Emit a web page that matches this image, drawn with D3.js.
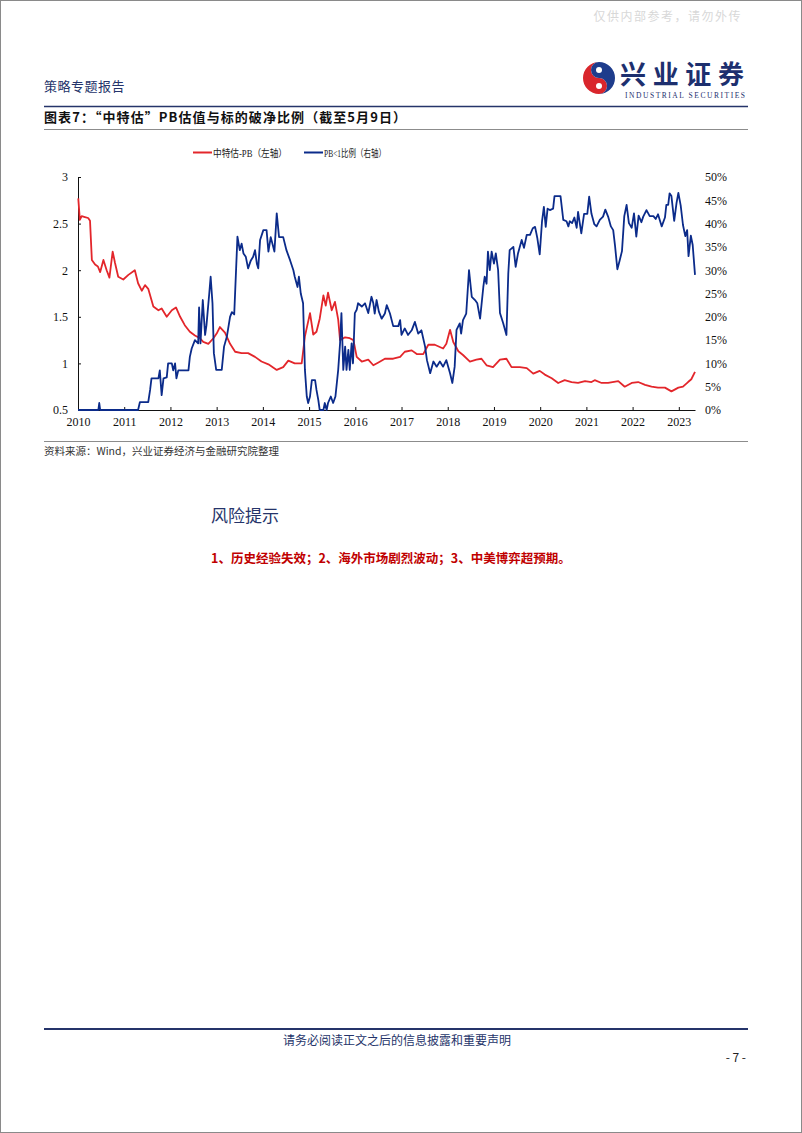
<!DOCTYPE html>
<html><head><meta charset="utf-8">
<script src="https://cdn.jsdelivr.net/npm/d3@7"></script>
<style>
html,body{margin:0;padding:0;background:#fff;}
svg{display:block;}
</style></head>
<body>
<svg id="page" width="802" height="1133"></svg>
<script>
// ---------------- data ----------------
const legendLabels = ["中特估-PB（左轴）", "PB<1比例（右轴）"];
const yearTicks = [2010,2011,2012,2013,2014,2015,2016,2017,2018,2019,2020,2021,2022,2023];
const leftTicks = [0.5,1,1.5,2,2.5,3];
const rightTicks = [0,5,10,15,20,25,30,35,40,45,50];

// 中特估-PB  [decimal year, PB]
const pbSeries = [
[2010.006,2.77],[2010.04,2.54],[2010.08,2.58],[2010.15,2.57],[2010.22,2.56],[2010.26,2.53],[2010.30,2.11],
[2010.37,2.06],[2010.43,2.04],[2010.48,1.98],[2010.55,2.11],[2010.62,2.00],[2010.68,1.92],[2010.75,2.20],
[2010.80,2.08],[2010.87,1.93],[2010.98,1.90],[2011.09,1.95],[2011.23,2.00],[2011.30,1.86],[2011.38,1.78],
[2011.45,1.84],[2011.52,1.80],[2011.63,1.61],[2011.74,1.57],[2011.81,1.59],[2011.92,1.50],[2012.03,1.57],
[2012.12,1.60],[2012.21,1.50],[2012.31,1.41],[2012.42,1.34],[2012.53,1.30],[2012.64,1.27],[2012.71,1.23],
[2012.82,1.21],[2012.93,1.27],[2013.00,1.32],[2013.07,1.39],[2013.18,1.33],[2013.29,1.21],[2013.40,1.125],
[2013.54,1.11],[2013.68,1.11],[2013.83,1.07],[2013.97,1.02],[2014.12,0.99],[2014.30,0.93],[2014.44,0.96],
[2014.55,1.03],[2014.69,1.00],[2014.84,1.00],[2014.91,1.29],[2015.02,1.54],[2015.09,1.31],[2015.16,1.34],
[2015.23,1.48],[2015.31,1.73],[2015.36,1.62],[2015.41,1.76],[2015.49,1.57],[2015.56,1.66],[2015.63,1.47],
[2015.67,1.25],[2015.78,1.28],[2015.88,1.27],[2015.96,1.25],[2016.03,1.07],[2016.14,1.02],[2016.28,1.04],
[2016.39,0.98],[2016.50,1.01],[2016.64,1.05],[2016.82,1.05],[2016.97,1.07],[2017.07,1.125],[2017.22,1.14],
[2017.33,1.10],[2017.47,1.10],[2017.58,1.20],[2017.72,1.20],[2017.90,1.16],[2017.97,1.21],[2018.05,1.36],
[2018.12,1.23],[2018.23,1.13],[2018.33,1.09],[2018.48,1.02],[2018.62,1.04],[2018.73,1.05],[2018.84,0.98],
[2018.98,0.96],[2019.13,1.04],[2019.27,1.05],[2019.38,0.96],[2019.56,0.96],[2019.71,0.95],[2019.85,0.89],
[2019.99,0.92],[2020.10,0.88],[2020.25,0.84],[2020.39,0.79],[2020.53,0.82],[2020.68,0.80],[2020.82,0.79],
[2020.97,0.81],[2021.11,0.80],[2021.18,0.82],[2021.33,0.79],[2021.47,0.79],[2021.69,0.81],[2021.83,0.75],
[2021.98,0.79],[2022.12,0.80],[2022.27,0.77],[2022.41,0.75],[2022.55,0.74],[2022.70,0.74],[2022.84,0.70],
[2022.99,0.74],[2023.09,0.75],[2023.20,0.80],[2023.27,0.83],[2023.35,0.91]
];

// PB<1比例  [decimal year, percent]
const ratioSeries = [
[2010.00,0],[2010.44,0],[2010.46,1.5],[2010.48,0],[2011.30,0],[2011.34,1.7],[2011.52,1.7],[2011.56,4.3],
[2011.59,6.8],[2011.74,6.8],[2011.77,8.5],[2011.81,3.2],[2011.85,6.8],[2011.92,7.0],[2011.95,10],[2012.03,10],
[2012.06,8.5],[2012.10,10],[2012.13,6.8],[2012.17,8.5],[2012.39,8.5],[2012.42,11.4],[2012.46,13.2],[2012.53,15],
[2012.60,14.3],[2012.62,22],[2012.65,14.3],[2012.70,23.6],[2012.75,16.1],[2012.78,18.2],[2012.84,25],[2012.87,28.6],
[2012.91,22.9],[2012.94,12.2],[2012.99,8.6],[2013.11,8.6],[2013.16,13.6],[2013.22,15.7],[2013.29,20],[2013.33,21],
[2013.38,20.5],[2013.45,37.2],[2013.50,34.3],[2013.54,35.7],[2013.58,33.6],[2013.63,32.9],[2013.68,30.4],[2013.74,32.1],
[2013.79,32.9],[2013.83,34.3],[2013.87,31.4],[2013.90,30.4],[2013.94,36.5],[2014.01,38.6],[2014.08,38.6],[2014.12,34],
[2014.17,37.1],[2014.25,34],[2014.30,42.2],[2014.35,37.1],[2014.44,37.1],[2014.51,34.3],[2014.59,32.1],[2014.66,30],
[2014.69,28.6],[2014.75,26.4],[2014.78,28.6],[2014.82,25],[2014.87,22.9],[2014.91,8.6],[2014.95,2.9],[2014.98,1.5],
[2015.02,2.9],[2015.06,6.4],[2015.13,6.4],[2015.16,4.3],[2015.20,2.1],[2015.23,0],[2015.31,0],[2015.34,1.5],
[2015.38,0],[2015.41,1.5],[2015.47,2.9],[2015.52,1.5],[2015.57,2.9],[2015.63,8.6],[2015.67,14.3],[2015.70,20.8],
[2015.74,8.6],[2015.78,13.6],[2015.81,8.6],[2015.85,12.9],[2015.88,8.6],[2015.92,14.3],[2015.95,10],[2015.99,20.8],
[2016.03,21.5],[2016.06,22.9],[2016.14,22.2],[2016.21,22.9],[2016.28,20.8],[2016.35,24.3],[2016.39,22.9],[2016.42,20.7],
[2016.46,23.6],[2016.51,21.1],[2016.57,19.6],[2016.64,20.7],[2016.68,22.5],[2016.75,20.7],[2016.82,18],[2016.93,18],
[2016.97,19.3],[2017.00,16.1],[2017.07,17.5],[2017.14,16.1],[2017.22,17.1],[2017.29,18.9],[2017.36,16.4],[2017.43,17.1],
[2017.51,13.6],[2017.55,10.7],[2017.62,7.9],[2017.69,10.4],[2017.76,9.3],[2017.83,10.4],[2017.90,9.3],[2017.97,10.7],
[2018.05,7.9],[2018.10,5.8],[2018.15,9.3],[2018.19,17.2],[2018.26,18.6],[2018.29,16.4],[2018.33,19.3],[2018.40,20.7],
[2018.46,30],[2018.52,24.3],[2018.59,23.6],[2018.64,22.9],[2018.70,19.6],[2018.77,26.4],[2018.80,28.6],[2018.84,27.1],
[2018.87,34],[2018.91,30],[2018.95,34],[2019.00,31.4],[2019.04,33.6],[2019.09,30],[2019.13,20.8],[2019.20,18.6],
[2019.27,16.1],[2019.31,29.3],[2019.34,34.3],[2019.42,35],[2019.47,30.7],[2019.52,33.6],[2019.60,36.5],[2019.65,34.8],
[2019.71,37.6],[2019.78,37.6],[2019.84,39],[2019.89,39.3],[2019.94,36.8],[2019.99,33.4],[2020.04,40.5],[2020.08,43.6],
[2020.12,39.3],[2020.16,43.2],[2020.21,42.9],[2020.28,43.2],[2020.31,45.9],[2020.44,45.9],[2020.50,40.8],[2020.57,40.5],
[2020.61,39.4],[2020.64,40.5],[2020.69,40.1],[2020.74,41.3],[2020.79,39.1],[2020.82,42.5],[2020.89,37.9],[2020.95,42.1],
[2021.02,42.1],[2021.06,45.8],[2021.11,42.1],[2021.17,39.9],[2021.22,39.4],[2021.29,40.8],[2021.36,41.5],[2021.41,43],
[2021.47,41.5],[2021.53,39.4],[2021.58,38.6],[2021.62,35.2],[2021.67,30.2],[2021.72,32.1],[2021.77,34.1],[2021.82,41.6],
[2021.87,44],[2021.92,40.1],[2021.98,39.1],[2022.03,42.2],[2022.08,37.2],[2022.13,41.7],[2022.19,40.3],[2022.23,41.5],
[2022.30,42.9],[2022.37,41.6],[2022.45,41.6],[2022.50,41],[2022.55,42],[2022.63,39.4],[2022.70,41.3],[2022.73,44],
[2022.77,44],[2022.80,46.5],[2022.84,45.9],[2022.90,40.6],[2022.95,44.4],[2022.99,46.6],[2023.04,43.9],[2023.09,39.7],
[2023.14,37.3],[2023.18,38.6],[2023.21,33],[2023.26,37.4],[2023.30,35.4],[2023.35,29]
];

// ---------------- drawing ----------------
const svg = d3.select("#page");
const NAVY = "#25346a";
const RED = "#e3262b";
const BLUE = "#0b2b8a";
const CJK = "'Noto Sans CJK SC', sans-serif";
const SERIF = "'Liberation Serif', 'Noto Sans CJK SC', serif";

// page frame
svg.append("rect").attr("x",0.5).attr("y",0.5).attr("width",801).attr("height",1132)
  .attr("fill","none").attr("stroke","#8a8a8a").attr("stroke-width",1);

// watermark
svg.append("text").attr("x",742).attr("y",21).attr("text-anchor","end")
  .attr("font-family",CJK).attr("font-size",12).attr("fill","#d8d8d8").attr("letter-spacing",1.5)
  .text("仅供内部参考，请勿外传");

// header left
svg.append("text").attr("x",44).attr("y",91)
  .attr("font-family",CJK).attr("font-size",13).attr("fill",NAVY).attr("letter-spacing",0.5)
  .text("策略专题报告");

// logo
const lg = svg.append("g").attr("transform","translate(599,78)");
lg.append("path").attr("d","M0,-16 A16,16 0 0,0 0,16 A8,8 0 0,0 0,0 A8,8 0 0,1 0,-16 Z").attr("fill","#d9262c");
lg.append("path").attr("d","M0,-16 A16,16 0 0,1 0,16 A8,8 0 0,0 0,0 A8,8 0 0,1 0,-16 Z").attr("fill","#1e3c8c");
lg.append("circle").attr("cx",0).attr("cy",-8).attr("r",3).attr("fill","#fff");
lg.append("circle").attr("cx",0).attr("cy",8).attr("r",3).attr("fill","#fff");
svg.append("text").attr("x",620).attr("y",84)
  .attr("font-family",CJK).attr("font-weight","bold").attr("font-size",26).attr("fill","#1d2f6e")
  .attr("textLength",124).attr("lengthAdjust","spacing")
  .text("兴业证券");
svg.append("text").attr("x",625).attr("y",98)
  .attr("font-family","'Liberation Serif', serif").attr("font-size",7.5).attr("fill","#1d2f6e")
  .attr("textLength",120).attr("lengthAdjust","spacing")
  .text("INDUSTRIAL SECURITIES");

// header line
svg.append("line").attr("x1",44).attr("x2",748).attr("y1",106.5).attr("y2",106.5)
  .attr("stroke",NAVY).attr("stroke-width",1.5);

// title
svg.append("text").attr("x",44).attr("y",122)
  .attr("font-family",CJK).attr("font-weight","bold").attr("font-size",13).attr("fill","#111")
  .attr("textLength",362).attr("lengthAdjust","spacing")
  .text("图表7：“中特估”PB估值与标的破净比例（截至5月9日）");
svg.append("line").attr("x1",44).attr("x2",748).attr("y1",129.5).attr("y2",129.5)
  .attr("stroke","#8c8c8c").attr("stroke-width",1);

// chart geometry
const x = d3.scaleLinear().domain([2010, 2023.35]).range([78, 695]);
const yL = d3.scaleLinear().domain([0.5, 3]).range([410, 177]);
const yR = d3.scaleLinear().domain([0, 50]).range([410, 177]);

const chart = svg.append("g");

// axes
const xAxis = d3.axisBottom(x).tickValues(yearTicks).tickFormat(d3.format("d"))
  .tickSizeInner(-3).tickSizeOuter(0).tickPadding(7);
const gx = chart.append("g").attr("transform","translate(0,410)").call(xAxis);
const leftAxis = d3.axisLeft(yL).tickValues(leftTicks).tickFormat(d => String(d))
  .tickSizeInner(-3).tickSizeOuter(0).tickPadding(10);
const gl = chart.append("g").attr("transform","translate(78,0)").call(leftAxis);
const rightAxis = d3.axisRight(yR).tickValues(rightTicks).tickFormat(d => d + "%")
  .tickSize(0).tickPadding(10);
const gr = chart.append("g").attr("transform","translate(695,0)").call(rightAxis);
gr.select(".domain").remove();

[gx, gl, gr].forEach(g => {
  g.selectAll("text").attr("font-family","'Liberation Serif', serif").attr("font-size",12).attr("fill","#111");
  g.selectAll(".domain, .tick line").attr("stroke","#111");
});

// lines
const linePB = d3.line().x(d => x(d[0])).y(d => yL(d[1]));
const lineRatio = d3.line().x(d => x(d[0])).y(d => yR(d[1]));
chart.append("path").datum(pbSeries).attr("d",linePB)
  .attr("fill","none").attr("stroke",RED).attr("stroke-width",1.8).attr("stroke-linejoin","round");
chart.append("path").datum(ratioSeries).attr("d",lineRatio)
  .attr("fill","none").attr("stroke",BLUE).attr("stroke-width",1.8).attr("stroke-linejoin","round");

// legend
const legendItems = [
  {label: legendLabels[0], color: RED, x0: 193, w: 74},
  {label: legendLabels[1], color: BLUE, x0: 304, w: 62}
];
const lgd = svg.append("g");
legendItems.forEach(it => {
  lgd.append("line").attr("x1",it.x0).attr("x2",it.x0+19).attr("y1",152.5).attr("y2",152.5)
    .attr("stroke",it.color).attr("stroke-width",2);
  lgd.append("text").attr("x",it.x0+20).attr("y",156.5)
    .attr("font-family",SERIF).attr("font-size",10).attr("fill","#222")
    .attr("textLength",it.w).attr("lengthAdjust","spacingAndGlyphs")
    .text(it.label);
});

// source
svg.append("line").attr("x1",44).attr("x2",748).attr("y1",441.5).attr("y2",441.5)
  .attr("stroke","#8c8c8c").attr("stroke-width",1);
svg.append("text").attr("x",44).attr("y",455)
  .attr("font-family",CJK).attr("font-size",10.5).attr("fill","#333")
  .text("资料来源：Wind，兴业证券经济与金融研究院整理");

// risk section
svg.append("text").attr("x",211).attr("y",522)
  .attr("font-family",CJK).attr("font-size",17).attr("fill",NAVY)
  .text("风险提示");
svg.append("text").attr("x",211).attr("y",563)
  .attr("font-family",CJK).attr("font-weight","bold").attr("font-size",12.5).attr("fill","#c00000")
  .text("1、历史经验失效；2、海外市场剧烈波动；3、中美博弈超预期。");

// footer
svg.append("line").attr("x1",44).attr("x2",748).attr("y1",1029).attr("y2",1029)
  .attr("stroke",NAVY).attr("stroke-width",2);
svg.append("text").attr("x",397).attr("y",1045).attr("text-anchor","middle")
  .attr("font-family",CJK).attr("font-size",12).attr("fill",NAVY)
  .text("请务必阅读正文之后的信息披露和重要声明");
svg.append("text").attr("x",746).attr("y",1062).attr("text-anchor","end")
  .attr("font-family",CJK).attr("font-size",12).attr("fill","#222")
  .text("- 7 -");
</script>
</body></html>
